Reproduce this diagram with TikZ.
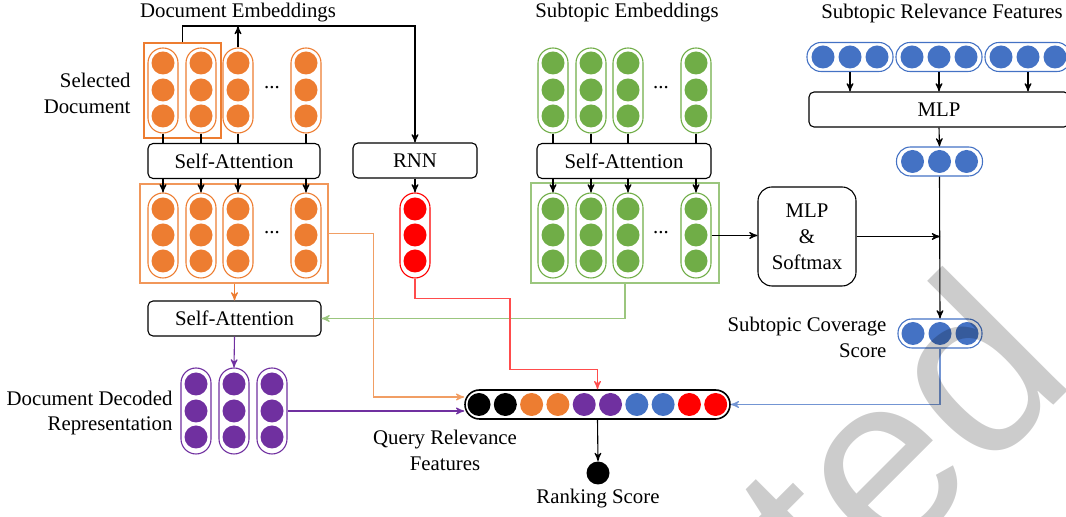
\documentclass[tikz,border=0pt]{standalone}
\usepackage{fontspec}
\setmainfont{Liberation Serif}
\newfontfamily\wmfont{Liberation Sans}
\usetikzlibrary{arrows,calc,positioning}
\definecolor{docor}{HTML}{ED7D31}
\definecolor{subgr}{HTML}{70AD47}
\definecolor{relbl}{HTML}{4472C4}
\definecolor{decpu}{HTML}{7030A0}
\definecolor{rnnrd}{HTML}{FF0000}
\tikzset{
  vcap/.style={draw, rounded corners=7.5pt, minimum width=15pt, minimum height=42.5pt, inner sep=0pt},
  hcap/.style={draw, rounded corners=7pt, minimum width=43pt, minimum height=14.5pt, inner sep=0pt},
  blk/.style={draw, rounded corners=2.5pt, inner sep=0pt, minimum height=17.5pt},
  grp/.style={draw, inner sep=0pt},
  lbl/.style={inner sep=0pt, align=center}
}

\begin{document}
\begin{tikzpicture}[x=0.5pt, y=-0.5pt, >=stealth', line width=0.55pt,
                    font=\fontsize{10.4}{13}\selectfont]
  \useasboundingbox (0,0) rectangle (1066,517);
  \clip (0,0) rectangle (1066,517);

  % document embeddings
  \node[lbl] (docemb) at (238,13) {Document Embeddings};
  \node[lbl, anchor=east, align=right] (seldoc) at (131,93) {Selected\\Document};
  \node[grp, draw=docor, minimum width=38.5pt, minimum height=47.5pt] (sel) at (182.5,90.5) {};
  \node[grp, draw=docor!80, minimum width=94pt, minimum height=49.5pt] (docout) at (234,233.5) {};
  \foreach \x [count=\i] in {163,201,238,306} {
    \node[vcap, draw=docor] (dt\i) at (\x,90.5) {};
    \node[vcap, draw=docor] (db\i) at (\x,235.5) {};
    \foreach \y in {63,90,116} \fill[docor] (\x,\y) circle[radius=5.75pt];
    \foreach \y in {209,235,261} \fill[docor] (\x,\y) circle[radius=5.75pt];
  }
  \node[lbl] (ddt) at (272,88) {...};
  \node[lbl] (ddb) at (272,233) {...};
  \node[blk, minimum width=86pt] (sa1) at (234,161) {Self-Attention};
  \node[blk, minimum width=86.5pt] (sa2) at (234.5,318.5) {Self-Attention};
  \coordinate (embtop) at (238,26);

  % decoded representation
  \node[lbl, anchor=east, align=right] (declbl) at (173,413) {Document Decoded\\Representation};
  \foreach \x [count=\i] in {196,234,272} {
    \node[vcap, draw=decpu, minimum height=43pt] (pd\i) at (\x,411) {};
    \foreach \y in {384,411,437} \fill[decpu] (\x,\y) circle[radius=5.75pt];
  }

  % rnn
  \node[blk, minimum width=62pt] (rnn) at (415,160.5) {RNN};
  \node[vcap, draw=rnnrd] (rc) at (415,235.5) {};
  \foreach \y in {209,235,261} \fill[rnnrd] (415,\y) circle[radius=5.75pt];

  % subtopic embeddings
  \node[lbl] (subemb) at (627,13) {Subtopic Embeddings};
  \node[grp, draw=subgr!70, minimum width=94pt, minimum height=50pt] (gout) at (625,233) {};
  \foreach \x [count=\i] in {553,591,628,696} {
    \node[vcap, draw=subgr] (gt\i) at (\x,90.5) {};
    \node[vcap, draw=subgr] (gb\i) at (\x,235.5) {};
    \foreach \y in {63,90,116} \fill[subgr] (\x,\y) circle[radius=5.75pt];
    \foreach \y in {209,235,261} \fill[subgr] (\x,\y) circle[radius=5.75pt];
  }
  \node[lbl] (gdt) at (661,88) {...};
  \node[lbl] (gdb) at (661,233) {...};
  \node[blk, minimum width=87pt] (sa3) at (624,161) {Self-Attention};
  \node[draw, rounded corners=7pt, inner sep=0pt, minimum width=49pt, minimum height=49.5pt,
        align=center] (mlps) at (807,236.5) {MLP\\\&\\Softmax};

  % subtopic relevance features
  \node[lbl] (subrel) at (942,14) {Subtopic Relevance Features};
  \foreach \x [count=\i] in {850,939,1028} {
    \node[hcap, draw=relbl] (bt\i) at (\x,57) {};
    \foreach \d in {-27,0,27} \fill[relbl] ($(\x,57)+(\d,0)$) circle[radius=5.75pt];
  }
  \node[blk, minimum width=130pt] (mlp) at (939,109.5) {MLP};
  \node[hcap, draw=relbl] (bm) at (939.5,161.5) {};
  \foreach \d in {-27,0,27} \fill[relbl] ($(939.5,161.5)+(\d,0)$) circle[radius=5.75pt];
  \node[lbl, anchor=east, align=right] (covlbl) at (887,337) {Subtopic Coverage\\Score};
  \node[hcap, draw=relbl, minimum width=42pt] (cov) at (940,333.5) {};
  \foreach \d in {-27,0,27} \fill[relbl] ($(940,333.5)+(\d,0)$) circle[radius=5.75pt];

  % query relevance features
  \node[draw, line width=0.8pt, rounded corners=7.25pt, inner sep=0pt, minimum width=132.5pt,
        minimum height=14.5pt] (qry) at (597.5,404.5) {};
  \foreach \c [count=\i from 0] in {black,black,docor,docor,decpu,decpu,relbl,relbl,rnnrd,rnnrd}
    \fill[\c] (479+26.3*\i,404.5) circle[radius=5.75pt];
  \node[lbl] (qrylbl) at (445,450) {Query Relevance\\Features};
  \node[circle, fill=black, inner sep=0pt, minimum size=11.5pt] (rank) at (598,473) {};
  \node[lbl] (ranklbl) at (598,499) {Ranking Score};

  % connections
  \foreach \i in {1,...,4} {
    \draw (dt\i.south) -- (dt\i.south |- sa1.north);
    \draw[->] (db\i.north |- sa1.south) -- (db\i.north);
    \draw (gt\i.south) -- (gt\i.south |- sa3.north);
    \draw[->] (gb\i.north |- sa3.south) -- (gb\i.north);
  }
  \draw[->] (dt3.north) -- (embtop);
  \draw[->] (sel.north) |- (embtop -| rnn.north) -- (rnn.north);
  \draw[->] (rnn.south) -- (rc.north);
  \draw[->, docor] (docout.south -| sa2.north) -- (sa2.north);
  \draw[->, decpu] (sa2.south) -- (pd2.north);
  \draw[->, subgr!70] (gout.south) |- (sa2.east);
  \draw[->, docor!75] (docout.east) -- ++(45,0) |- ([yshift=3.75pt]qry.west);
  \draw[->, decpu] (pd3.east) -- (pd3.east -| qry.west);
  \draw[->, rnnrd!70] (rc.south) -- ++(0,20) -| ++(95,71) -| (qry.north);
  \draw[->] (gb4.east) -- (gb4.east -| mlps.west);
  \draw[->] (mlps.east) -- (mlps.east -| cov.north);
  \foreach \i in {1,2,3} \draw[->] (bt\i.south) -- (bt\i.south |- mlp.north);
  \draw[->] (mlp.south) -- (bm.north);
  \draw[->] (bm.south) -- (cov.north);
  \draw[->, relbl!75] (cov.south) |- (qry.east);
  \draw[->] (qry.south) -- (rank.north);

  % watermark
  \node[font=\wmfont\fontsize{122}{122}\selectfont, text=black, text opacity=0.2,
        rotate=45] (wm) at (898,438) {ted};
\end{tikzpicture}
\end{document}
